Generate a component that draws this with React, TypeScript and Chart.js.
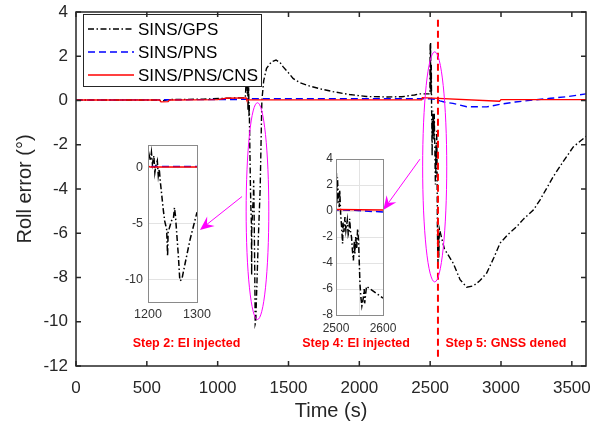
import React, { useEffect, useRef } from 'react';
import { Chart, registerables } from 'chart.js';

Chart.register(...registerables);

const FONT = "'Liberation Sans', Arial, Helvetica, sans-serif";

// ---------------- data ----------------
const gpsTime = [
  0, 300, 590, 600, 650, 900, 1060, 1150, 1195,
  1200, 1202, 1205, 1207, 1209, 1212, 1214, 1216, 1219, 1221, 1223, 1225, 1231, 1234, 1238, 1240, 1241,
  1245, 1248, 1252, 1254, 1256, 1262, 1265, 1269, 1276, 1286, 1300,
  1312, 1325, 1345, 1380, 1412, 1440, 1461, 1500, 1532, 1581, 1650, 1730, 1815, 1930, 2050, 2200, 2300,
  2390, 2420, 2498,
  2500, 2501, 2502, 2503, 2505, 2507, 2508, 2510, 2512, 2514, 2515, 2517, 2519, 2521, 2524, 2526, 2528,
  2529, 2531, 2533, 2535, 2537, 2539, 2540, 2542, 2544, 2546, 2548, 2551, 2553, 2555, 2558, 2560, 2561,
  2563, 2565, 2600, 2663, 2711, 2758, 2805, 2850, 2899, 2950, 2993, 3050, 3111, 3160, 3228, 3275, 3369,
  3440, 3510, 3600,
];
const gpsRoll = [
  0.02, 0.02, 0.02, -0.03, 0.04, 0.06, 0.1, 0.12, 0.12,
  0.74, 1.19, 0.6, 1.34, 0.3, 1.04, -0.45, 0.15, 0.6, -0.74, -0.15, -1.2, -3.7, -4.76, -5.5, -7.9, -5.8,
  -5.2, -4.76, -4.5, -3.6, -4.3, -7.9, -10.1, -10.0, -8.5, -6.4, -4.0,
  0.0, 0.9, 1.45, 1.75, 1.83, 1.72, 1.53, 1.25, 1.0, 0.8, 0.65, 0.52, 0.4, 0.27, 0.18, 0.16, 0.17,
  0.25, 0.3, 0.3,
  2.5, 2.6, 0.5, 2.6, 1.0, 0.3, 1.6, -0.3, -1.24, -2.5, -0.9, -1.6, -0.46, -1.5, -0.7, -1.8, -1.5,
  -0.6, -1.6, -2.0, -3.05, -3.8, -2.3, -3.3, -2.0, -2.9, -1.37, -2.3, -5.6, -6.67, -7.3, -6.7, -6.0, -7.1,
  -6.4, -5.8, -6.7, -7.36, -8.1, -8.44, -8.38, -8.15, -7.8, -7.1, -6.45, -6.05, -5.7, -5.35, -4.95, -4.5, -3.44,
  -2.75, -2.1, -1.62,
];
const pnsTime = [0, 600, 1200, 1210, 1300, 2000, 2500, 2540, 2569, 2600, 2661, 2758, 2899, 2993, 3100, 3228, 3350, 3463, 3600];
const pnsRoll = [0.02, 0.03, 0.05, 0.08, 0.08, 0.08, 0.08, 0.05, -0.02, -0.07, -0.13, -0.28, -0.29, -0.17, -0.07, 0.02, 0.1, 0.17, 0.3];
const cnsTime = [0, 590, 600, 650, 660, 1000, 1060, 1200, 1205, 2440, 2445, 2990, 3000, 3600];
const cnsRoll = [0.02, 0.02, -0.06, -0.05, 0.02, 0.04, 0.1, 0.12, 0.03, 0.03, 0.13, -0.03, 0.04, 0.04];

const seriesLabels = ['SINS/GPS', 'SINS/PNS', 'SINS/PNS/CNS'];

const mainXTicks = [0, 500, 1000, 1500, 2000, 2500, 3000, 3500];
const mainYTicks = [-12, -10, -8, -6, -4, -2, 0, 2, 4];
const inset1XTicks = [1200, 1300];
const inset1YTicks = [-10, -5, 0];
const inset2XTicks = [2500, 2550, 2600];
const inset2XLabels = ['2500', '', '2600'];
const inset2YTicks = [-8, -6, -4, -2, 0, 2, 4];

const gnssDeniedTime = 2555;
const gnssLineSpan = [3.65, -11.7];

const stepLabels = ['Step 2: EI injected', 'Step 4: EI injected', 'Step 5: GNSS dened'];
const stepTimes = [780, 1977, 3035];
const stepRoll = -11.0;

const ellipseTime = [1281, 2532];
const ellipseRoll = [-5.0, -3.0];
const ellipseHalfTime = [80, 85];
const ellipseHalfRoll = [4.9, 5.2];

const arrowFromTime = [1172, 2428];
const arrowFromRoll = [-4.34, -2.65];
const arrowToTime = [875, 2169];
const arrowToRoll = [-5.85, -4.95];

// ---------------- helpers ----------------
const pts = (t: number[], v: number[]) => t.map((x, i) => ({ x, y: v[i] }));
const DASHDOT = [6, 2.5, 1.5, 2.5];
const DASHED = [7, 4];

function seriesDatasets(lw: number) {
  return [
    { label: seriesLabels[0], data: pts(gpsTime, gpsRoll), borderColor: '#000000', borderWidth: lw, borderDash: DASHDOT, order: 2 },
    { label: seriesLabels[1], data: pts(pnsTime, pnsRoll), borderColor: '#0000ff', borderWidth: lw, borderDash: DASHED, order: 1 },
    { label: seriesLabels[2], data: pts(cnsTime, cnsRoll), borderColor: '#ff0000', borderWidth: lw, borderDash: [], order: 0 },
  ].map((d) => ({ ...d, pointRadius: 0, fill: false, tension: 0 }));
}

function drawArrow(ctx: CanvasRenderingContext2D, x1: number, y1: number, x2: number, y2: number) {
  const ang = Math.atan2(y2 - y1, x2 - x1);
  const L = 14, W = 6, back = 9;
  const ux = Math.cos(ang), uy = Math.sin(ang);
  const nx = -uy, ny = ux;
  ctx.beginPath();
  ctx.moveTo(x1, y1);
  ctx.lineTo(x2 - ux * back, y2 - uy * back);
  ctx.stroke();
  ctx.beginPath();
  ctx.moveTo(x2, y2);
  ctx.lineTo(x2 - ux * L + nx * W, y2 - uy * L + ny * W);
  ctx.lineTo(x2 - ux * back, y2 - uy * back);
  ctx.lineTo(x2 - ux * L - nx * W, y2 - uy * L - ny * W);
  ctx.closePath();
  ctx.fill();
}

const mainDecor = {
  id: 'mainDecor',
  afterDatasetsDraw(chart: any) {
    const { ctx, chartArea: ca, scales } = chart;
    const xs = scales.x, ys = scales.y;
    ctx.save();
    // ellipses
    ctx.strokeStyle = '#ff00ff';
    ctx.lineWidth = 1;
    ellipseTime.forEach((t, i) => {
      const cx = xs.getPixelForValue(t);
      const cy = ys.getPixelForValue(ellipseRoll[i]);
      const rx = Math.abs(xs.getPixelForValue(t + ellipseHalfTime[i]) - cx);
      const ry = Math.abs(ys.getPixelForValue(ellipseRoll[i] + ellipseHalfRoll[i]) - cy);
      ctx.beginPath();
      ctx.ellipse(cx, cy, rx, ry, 0, 0, Math.PI * 2);
      ctx.stroke();
    });
    // arrows
    ctx.fillStyle = '#ff00ff';
    arrowFromTime.forEach((t, i) => {
      drawArrow(
        ctx,
        xs.getPixelForValue(t), ys.getPixelForValue(arrowFromRoll[i]),
        xs.getPixelForValue(arrowToTime[i]), ys.getPixelForValue(arrowToRoll[i])
      );
    });
    // step labels
    ctx.fillStyle = '#ff0000';
    ctx.font = `bold 12.5px ${FONT}`;
    ctx.textAlign = 'center';
    ctx.textBaseline = 'middle';
    stepLabels.forEach((s, i) => {
      ctx.fillText(s, xs.getPixelForValue(stepTimes[i]), ys.getPixelForValue(stepRoll));
    });
    // legend
    const lx = ca.left + 7, ly = ca.top + 2, lw = 178, lh = 72;
    ctx.fillStyle = '#ffffff';
    ctx.fillRect(lx, ly, lw, lh);
    ctx.strokeStyle = '#262626';
    ctx.lineWidth = 1;
    ctx.strokeRect(lx + 0.5, ly + 0.5, lw, lh);
    ctx.font = `17px ${FONT}`;
    ctx.textAlign = 'left';
    ctx.textBaseline = 'middle';
    chart.data.datasets.slice(0, 3).forEach((d: any, i: number) => {
      const yy = ly + 15 + i * 23;
      ctx.strokeStyle = d.borderColor;
      ctx.lineWidth = 1.5;
      ctx.setLineDash(d.borderDash || []);
      ctx.beginPath();
      ctx.moveTo(lx + 5, yy);
      ctx.lineTo(lx + 51, yy);
      ctx.stroke();
      ctx.setLineDash([]);
      ctx.fillStyle = '#000000';
      ctx.fillText(d.label, lx + 55, yy + 1);
    });
    // frame and inward ticks
    ctx.strokeStyle = '#262626';
    ctx.lineWidth = 1.5;
    ctx.strokeRect(ca.left, ca.top, ca.right - ca.left, ca.bottom - ca.top);
    ctx.beginPath();
    mainXTicks.forEach((v) => {
      const p = xs.getPixelForValue(v);
      ctx.moveTo(p, ca.bottom); ctx.lineTo(p, ca.bottom - 5);
      ctx.moveTo(p, ca.top); ctx.lineTo(p, ca.top + 5);
    });
    mainYTicks.forEach((v) => {
      const p = ys.getPixelForValue(v);
      ctx.moveTo(ca.left, p); ctx.lineTo(ca.left + 5, p);
      ctx.moveTo(ca.right, p); ctx.lineTo(ca.right - 5, p);
    });
    ctx.stroke();
    ctx.restore();
  },
};

const insetDecor = {
  id: 'insetDecor',
  beforeDraw(chart: any) {
    const { ctx, chartArea: ca } = chart;
    ctx.save();
    ctx.fillStyle = '#ffffff';
    ctx.fillRect(ca.left, ca.top, ca.right - ca.left, ca.bottom - ca.top);
    ctx.restore();
  },
  afterDraw(chart: any) {
    const { ctx, chartArea: ca } = chart;
    ctx.save();
    ctx.strokeStyle = '#8a8a8a';
    ctx.lineWidth = 1;
    ctx.strokeRect(Math.round(ca.left) + 0.5, Math.round(ca.top) + 0.5, Math.round(ca.right - ca.left), Math.round(ca.bottom - ca.top));
    ctx.restore();
  },
};

const fixX = (h: number) => (s: any) => { s.height = h; s.paddingLeft = 0; s.paddingRight = 0; };
const fixY = (w: number) => (s: any) => { s.width = w; s.paddingTop = 0; s.paddingBottom = 0; };

function mainConfig(): any {
  return {
    type: 'line',
    data: {
      datasets: [
        ...seriesDatasets(1.4),
        {
          label: '',
          data: pts([gnssDeniedTime, gnssDeniedTime], gnssLineSpan),
          borderColor: '#ff0000',
          borderWidth: 2,
          borderDash: [7, 4],
          pointRadius: 0,
          order: -1,
        },
      ],
    },
    options: {
      animation: false,
      responsive: false,
      devicePixelRatio: 1,
      events: [],
      layout: { padding: { left: 0, top: 12, right: 19, bottom: 0 } },
      plugins: { legend: { display: false }, tooltip: { enabled: false } },
      scales: {
        x: {
          type: 'linear',
          min: 0,
          max: 3600,
          afterBuildTicks: (s: any) => { s.ticks = mainXTicks.map((value) => ({ value })); },
          afterFit: fixX(61),
          grid: { display: false, drawTicks: false },
          border: { display: false },
          ticks: { font: { family: FONT, size: 17 }, color: '#262626', padding: 12, maxRotation: 0, autoSkip: false, callback: (v: any) => String(v) },
          title: { display: true, text: 'Time (s)', font: { family: FONT, size: 20 }, color: '#262626', padding: { top: 0, bottom: 4 } },
        },
        y: {
          type: 'linear',
          min: -12,
          max: 4,
          afterBuildTicks: (s: any) => { s.ticks = mainYTicks.map((value) => ({ value })); },
          afterFit: fixY(76),
          grid: { display: false, drawTicks: false },
          border: { display: false },
          ticks: { font: { family: FONT, size: 17 }, color: '#262626', padding: 8, autoSkip: false, callback: (v: any) => String(v) },
          title: { display: true, text: 'Roll error (°)', font: { family: FONT, size: 20 }, color: '#262626', padding: { top: 13, bottom: 0 } },
        },
      },
    },
    plugins: [mainDecor],
  };
}

function insetConfig(o: {
  xMin: number; xMax: number; yMin: number; yMax: number;
  xTicks: number[]; xLabels: string[]; yTicks: number[];
  left: number; top: number; right: number; bottom: number;
  fontSize: number; xPad: number; yPad: number;
}): any {
  const yw = 40, xh = 25;
  return {
    type: 'line',
    data: { datasets: seriesDatasets(1.5) },
    options: {
      animation: false,
      responsive: false,
      devicePixelRatio: 1,
      events: [],
      layout: { padding: { left: o.left - yw, top: o.top, right: 605 - o.right, bottom: 427 - o.bottom - xh } },
      plugins: { legend: { display: false }, tooltip: { enabled: false } },
      scales: {
        x: {
          type: 'linear',
          min: o.xMin,
          max: o.xMax,
          afterBuildTicks: (s: any) => { s.ticks = o.xTicks.map((value) => ({ value })); },
          afterFit: fixX(xh),
          grid: { color: '#e3e3e3', drawTicks: false },
          border: { display: false },
          ticks: {
            font: { family: FONT, size: o.fontSize }, color: '#333333', padding: o.xPad, maxRotation: 0, minRotation: 0, autoSkip: false,
            callback: (v: any) => { const i = o.xTicks.indexOf(Number(v)); return i >= 0 ? o.xLabels[i] : ''; },
          },
        },
        y: {
          type: 'linear',
          min: o.yMin,
          max: o.yMax,
          afterBuildTicks: (s: any) => { s.ticks = o.yTicks.map((value) => ({ value })); },
          afterFit: fixY(yw),
          grid: { color: '#e3e3e3', drawTicks: false },
          border: { display: false },
          ticks: { font: { family: FONT, size: o.fontSize }, color: '#333333', padding: o.yPad, autoSkip: false, callback: (v: any) => String(v) },
        },
      },
    },
    plugins: [insetDecor],
  };
}

export default function App() {
  const mainRef = useRef<HTMLCanvasElement>(null);
  const in1Ref = useRef<HTMLCanvasElement>(null);
  const in2Ref = useRef<HTMLCanvasElement>(null);

  useEffect(() => {
    const charts: Chart[] = [];
    if (mainRef.current) charts.push(new Chart(mainRef.current, mainConfig()));
    if (in1Ref.current)
      charts.push(new Chart(in1Ref.current, insetConfig({
        xMin: 1200, xMax: 1300, yMin: -12, yMax: 2,
        xTicks: inset1XTicks, xLabels: inset1XTicks.map(String), yTicks: inset1YTicks,
        left: 148, top: 145, right: 197, bottom: 302, fontSize: 12.5, xPad: 5, yPad: 5,
      })));
    if (in2Ref.current)
      charts.push(new Chart(in2Ref.current, insetConfig({
        xMin: 2500, xMax: 2600, yMin: -8, yMax: 4,
        xTicks: inset2XTicks, xLabels: inset2XLabels, yTicks: inset2YTicks,
        left: 336, top: 159, right: 383, bottom: 315, fontSize: 12, xPad: 6, yPad: 3,
      })));
    return () => charts.forEach((c) => c.destroy());
  }, []);

  const cs: React.CSSProperties = { position: 'absolute', left: 0, top: 0, width: 605, height: 427 };
  return (
    <div style={{ position: 'absolute', left: 0, top: 0, width: 605, height: 427, background: '#ffffff' }}>
      <canvas ref={mainRef} width={605} height={427} style={cs} />
      <canvas ref={in1Ref} width={605} height={427} style={cs} />
      <canvas ref={in2Ref} width={605} height={427} style={cs} />
    </div>
  );
}
